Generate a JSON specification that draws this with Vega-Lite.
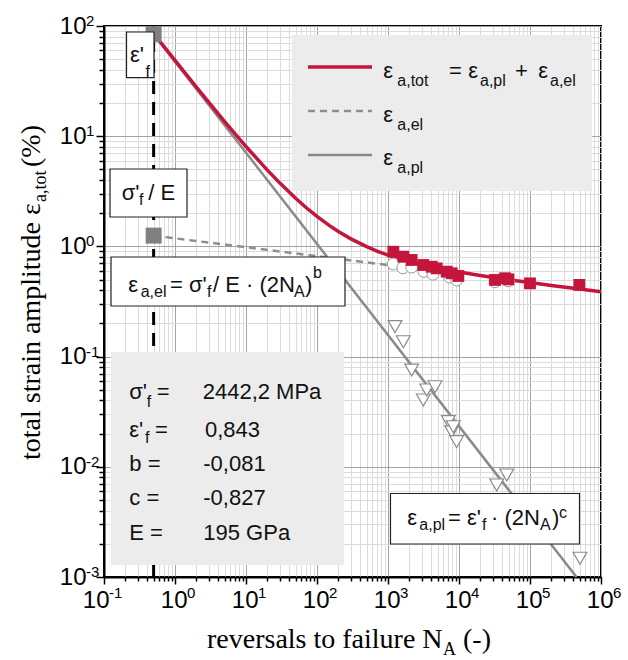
{
  "$schema": "https://vega.github.io/schema/vega-lite/v6.json",
  "width": 497,
  "height": 551,
  "autosize": {"type": "none"},
  "padding": {"left": 104, "top": 26, "right": 27, "bottom": 83},
  "background": "white",
  "config": {
    "view": {"stroke": "#000", "strokeWidth": 2},
    "text": {"font": "Liberation Sans", "color": "#111"}
  },
  "datasets": {
    "vline": [{"N": 0.5, "eps": 0.001}, {"N": 0.5, "eps": 100}],
    "el": [{"N": 0.5, "eps": 1.2524}, {"N": 1000, "eps": 0.6767}],
    "pl": [{"N": 0.5, "eps": 84.3}, {"N": 452000, "eps": 0.001}],
    "tot": [
      {"N": 0.5, "eps": 85.55}, {"N": 0.7, "eps": 65.04}, {"N": 1, "eps": 48.71}, {"N": 2, "eps": 27.91},
      {"N": 5, "eps": 13.59}, {"N": 10, "eps": 8.06}, {"N": 20, "eps": 4.919}, {"N": 30, "eps": 3.752},
      {"N": 50, "eps": 2.732}, {"N": 70, "eps": 2.255}, {"N": 100, "eps": 1.869}, {"N": 150, "eps": 1.543},
      {"N": 200, "eps": 1.365}, {"N": 300, "eps": 1.171}, {"N": 500, "eps": 0.994}, {"N": 700, "eps": 0.9076},
      {"N": 1000, "eps": 0.834}, {"N": 2000, "eps": 0.728}, {"N": 3000, "eps": 0.682}, {"N": 5000, "eps": 0.635},
      {"N": 10000, "eps": 0.585}, {"N": 20000, "eps": 0.544}, {"N": 50000, "eps": 0.499}, {"N": 100000, "eps": 0.4695},
      {"N": 200000, "eps": 0.4425}, {"N": 500000, "eps": 0.41}, {"N": 1000000, "eps": 0.3872}
    ],
    "anchors": [{"N": 0.5, "eps": 84.3}, {"N": 0.5, "eps": 1.2524}],
    "totPts": [
      {"N": 1189, "eps": 0.895}, {"N": 1643, "eps": 0.807}, {"N": 2153, "eps": 0.753}, {"N": 3141, "eps": 0.678},
      {"N": 4121, "eps": 0.654}, {"N": 4850, "eps": 0.632}, {"N": 6714, "eps": 0.59}, {"N": 7889, "eps": 0.57},
      {"N": 9793, "eps": 0.539}, {"N": 32150, "eps": 0.496}, {"N": 44500, "eps": 0.514}, {"N": 49600, "eps": 0.502},
      {"N": 100000, "eps": 0.462}, {"N": 495000, "eps": 0.447}
    ],
    "elPts": [
      {"N": 1189, "eps": 0.692}, {"N": 1620, "eps": 0.64}, {"N": 2153, "eps": 0.65}, {"N": 3200, "eps": 0.595},
      {"N": 4300, "eps": 0.56}, {"N": 7400, "eps": 0.527}, {"N": 9300, "eps": 0.497}, {"N": 32150, "eps": 0.478},
      {"N": 49600, "eps": 0.487}
    ],
    "plPts": [
      {"N": 1256, "eps": 0.187}, {"N": 1643, "eps": 0.1365}, {"N": 2153, "eps": 0.0755}, {"N": 3141, "eps": 0.0404},
      {"N": 3507, "eps": 0.0498}, {"N": 4592, "eps": 0.0533}, {"N": 7080, "eps": 0.0257}, {"N": 7889, "eps": 0.0208},
      {"N": 8320, "eps": 0.0231}, {"N": 9270, "eps": 0.0169}, {"N": 33960, "eps": 0.00684}, {"N": 46990, "eps": 0.00843},
      {"N": 506000, "eps": 0.00148}
    ],
    "grayBoxes": [
      {"N": 44.45, "N2": 746800, "eps": 82.85, "eps2": 3.183},
      {"N": 0.1255, "N2": 239.9, "eps": 0.1101, "eps2": 0.001285}
    ],
    "whiteBoxes": [
      {"N": 0.2075, "N2": 0.506, "eps": 88.2, "eps2": 33.96},
      {"N": 0.1215, "N2": 1.476, "eps": 5.04, "eps2": 1.848},
      {"N": 0.1255, "N2": 247.9, "eps": 0.8012, "eps2": 0.2878},
      {"N": 1084, "N2": 498000, "eps": 0.005723, "eps2": 0.001993}
    ],
    "legRed": [{"N": 74.6, "N2": 595.7, "eps": 42.5}],
    "legDash": [{"N": 74.6, "N2": 595.7, "eps": 16.93}],
    "legGray": [{"N": 74.6, "N2": 595.7, "eps": 6.752}],
    "tmain": [
      {"N": 858.8, "eps": 33.74, "t": "ε"}, {"N": 7231, "eps": 33.74, "t": "="}, {"N": 13520, "eps": 33.74, "t": "ε"},
      {"N": 61480, "eps": 33.74, "t": "+"}, {"N": 130900, "eps": 33.74, "t": "ε"},
      {"N": 858.8, "eps": 13.54, "t": "ε"}, {"N": 858.8, "eps": 5.479, "t": "ε"},
      {"N": 0.2324, "eps": 47.13, "t": "ε'"},
      {"N": 0.1775, "eps": 2.637, "t": "σ'"}, {"N": 0.4206, "eps": 2.637, "t": "/ E"},
      {"N": 0.2199, "eps": 0.388, "t": "ε"}, {"N": 0.8504, "eps": 0.388, "t": "= σ'"},
      {"N": 3.429, "eps": 0.388, "t": "/ E · (2N"}, {"N": 67.77, "eps": 0.388, "t": ")"},
      {"N": 1870, "eps": 0.002963, "t": "ε"}, {"N": 7000, "eps": 0.002963, "t": "= ε'"},
      {"N": 28230, "eps": 0.002963, "t": "· (2N"}, {"N": 204100, "eps": 0.002963, "t": ")"},
      {"N": 0.2271, "eps": 0.04099, "t": "σ'"}, {"N": 0.5524, "eps": 0.04099, "t": "="}, {"N": 2.455, "eps": 0.04099, "t": "2442,2 MPa"},
      {"N": 0.2271, "eps": 0.01875, "t": "ε'"}, {"N": 0.5228, "eps": 0.01875, "t": "="}, {"N": 2.646, "eps": 0.01875, "t": "0,843"},
      {"N": 0.2271, "eps": 0.009218, "t": "b ="}, {"N": 2.503, "eps": 0.009218, "t": "-0,081"},
      {"N": 0.2271, "eps": 0.004501, "t": "c ="}, {"N": 2.503, "eps": 0.004501, "t": "-0,827"},
      {"N": 0.2271, "eps": 0.002167, "t": "E ="}, {"N": 2.503, "eps": 0.002167, "t": "195 GPa"}
    ],
    "tsub": [
      {"N": 1352, "eps": 28.55, "t": "a,tot"}, {"N": 19760, "eps": 28.55, "t": "a,pl"}, {"N": 191300, "eps": 28.55, "t": "a,el"},
      {"N": 1352, "eps": 11.38, "t": "a,el"}, {"N": 1352, "eps": 4.636, "t": "a,pl"},
      {"N": 0.3842, "eps": 34.81, "t": "f"},
      {"N": 0.3112, "eps": 2.375, "t": "f"},
      {"N": 0.3288, "eps": 0.351, "t": "a,el"}, {"N": 2.823, "eps": 0.351, "t": "f"}, {"N": 47.46, "eps": 0.351, "t": "A"}, {"N": 87.83, "eps": 0.5125, "t": "b"},
      {"N": 2759, "eps": 0.00267, "t": "a,pl"}, {"N": 21080, "eps": 0.00267, "t": "f"}, {"N": 138300, "eps": 0.00267, "t": "A"}, {"N": 256200, "eps": 0.003409, "t": "c"},
      {"N": 0.3995, "eps": 0.0351, "t": "f"}, {"N": 0.3781, "eps": 0.01634, "t": "f"}
    ],
    "ttl": [{"N": 2.823, "eps": 0.0002268, "t": "reversals to failure N"}, {"N": 11390, "eps": 0.0002268, "t": "(-)"}],
    "ttls": [{"N": 5953, "eps": 0.000196, "t": "A"}],
    "tty": [{"N": 0.01255, "eps": 0.01152, "t": "total strain amplitude ε"}, {"N": 0.01255, "eps": 5.253, "t": "(%)"}],
    "ttys": [{"N": 0.01524, "eps": 2.528, "t": "a,tot"}],
    "xexpPos": [
      {"N": 1, "eps": 0.001, "t": "0"}, {"N": 10, "eps": 0.001, "t": "1"}, {"N": 100, "eps": 0.001, "t": "2"},
      {"N": 1000, "eps": 0.001, "t": "3"}, {"N": 10000, "eps": 0.001, "t": "4"}, {"N": 100000, "eps": 0.001, "t": "5"},
      {"N": 1000000, "eps": 0.001, "t": "6"}
    ],
    "xexpNeg": [{"N": 0.1, "eps": 0.001, "t": "-1"}],
    "yexp": [
      {"N": 0.1, "eps": 0.001, "t": "-3"}, {"N": 0.1, "eps": 0.01, "t": "-2"}, {"N": 0.1, "eps": 0.1, "t": "-1"},
      {"N": 0.1, "eps": 1, "t": "0"}, {"N": 0.1, "eps": 10, "t": "1"}, {"N": 0.1, "eps": 100, "t": "2"}
    ]
  },
  "encoding": {
    "x": {
      "field": "N", "type": "quantitative",
      "scale": {"type": "log", "domain": [0.1, 1000000], "nice": false},
      "axis": {
        "title": null,
        "values": [0.1,0.2,0.3,0.4,0.5,0.6,0.7,0.8,0.9,1,2,3,4,5,6,7,8,9,10,20,30,40,50,60,70,80,90,100,200,300,400,500,600,700,800,900,1000,2000,3000,4000,5000,6000,7000,8000,9000,10000,20000,30000,40000,50000,60000,70000,80000,90000,100000,200000,300000,400000,500000,600000,700000,800000,900000,1000000],
        "grid": true,
        "gridColor": {"condition": {"test": "abs(log(datum.value)/LN10 - round(log(datum.value)/LN10)) < 0.000001", "value": "#a3a3a3"}, "value": "#dcdcdc"},
        "gridWidth": 1,
        "tickSize": {"condition": {"test": "abs(log(datum.value)/LN10 - round(log(datum.value)/LN10)) < 0.000001", "value": 7}, "value": 4},
        "tickColor": "#000", "tickWidth": 1.5,
        "domainColor": "#000", "domainWidth": 2,
        "labelExpr": "abs(log(datum.value)/LN10 - round(log(datum.value)/LN10)) < 0.000001 ? '10' : ''",
        "labelFont": "Liberation Sans", "labelFontSize": 24, "labelColor": "#000",
        "labelAlign": "right",
        "labelOffset": {"condition": {"test": "datum.value < 0.5", "value": 5}, "value": 12},
        "labelPadding": 4,
        "labelOverlap": false, "labelFlush": false, "labelBound": false
      }
    },
    "y": {
      "field": "eps", "type": "quantitative",
      "scale": {"type": "log", "domain": [0.001, 100], "nice": false},
      "axis": {
        "title": null,
        "values": [0.001,0.002,0.003,0.004,0.005,0.006,0.007,0.008,0.009,0.01,0.02,0.03,0.04,0.05,0.06,0.07,0.08,0.09,0.1,0.2,0.3,0.4,0.5,0.6,0.7,0.8,0.9,1,2,3,4,5,6,7,8,9,10,20,30,40,50,60,70,80,90,100],
        "grid": true,
        "gridColor": {"condition": {"test": "abs(log(datum.value)/LN10 - round(log(datum.value)/LN10)) < 0.000001", "value": "#a3a3a3"}, "value": "#dcdcdc"},
        "gridWidth": 1,
        "tickSize": {"condition": {"test": "abs(log(datum.value)/LN10 - round(log(datum.value)/LN10)) < 0.000001", "value": 8}, "value": 5},
        "tickColor": "#000", "tickWidth": 1.5,
        "domainColor": "#000", "domainWidth": 2,
        "labelExpr": "abs(log(datum.value)/LN10 - round(log(datum.value)/LN10)) < 0.000001 ? '10' : ''",
        "labelFont": "Liberation Sans", "labelFontSize": 24, "labelColor": "#000",
        "labelAlign": "right", "labelBaseline": "middle",
        "labelPadding": 10,
        "labelOverlap": false, "labelFlush": false, "labelBound": false
      }
    }
  },
  "layer": [
    {"data": {"name": "vline"}, "mark": {"type": "line", "color": "#000", "strokeWidth": 3, "strokeDash": [13, 8]}},
    {"data": {"name": "el"}, "mark": {"type": "line", "color": "#8e8e8e", "strokeWidth": 2.5, "strokeDash": [7, 5]}},
    {"data": {"name": "pl"}, "mark": {"type": "line", "color": "#8a8a8a", "strokeWidth": 2.5}},
    {"data": {"name": "tot"}, "mark": {"type": "line", "color": "#c4163c", "strokeWidth": 3.5}},
    {"data": {"name": "anchors"}, "mark": {"type": "point", "shape": "square", "filled": true, "size": 256, "color": "#808080", "opacity": 1}},
    {"data": {"name": "elPts"}, "mark": {"type": "point", "shape": "circle", "filled": true, "fill": "#fff", "stroke": "#9a9a9a", "strokeWidth": 1, "size": 144, "opacity": 1}},
    {"data": {"name": "plPts"}, "mark": {"type": "point", "shape": "triangle-down", "filled": true, "fill": "#fff", "stroke": "#8a8a8a", "strokeWidth": 1.2, "size": 190, "opacity": 1}},
    {"data": {"name": "totPts"}, "mark": {"type": "point", "shape": "square", "filled": true, "color": "#c4163c", "size": 140, "opacity": 1}},
    {"data": {"name": "grayBoxes"}, "mark": {"type": "rect", "fill": "#ececec"}, "encoding": {"x2": {"field": "N2"}, "y2": {"field": "eps2"}}},
    {"data": {"name": "whiteBoxes"}, "mark": {"type": "rect", "fill": "#fff", "stroke": "#222", "strokeWidth": 1.2}, "encoding": {"x2": {"field": "N2"}, "y2": {"field": "eps2"}}},
    {"data": {"name": "legRed"}, "mark": {"type": "rule", "color": "#c4163c", "strokeWidth": 3.5}, "encoding": {"x2": {"field": "N2"}}},
    {"data": {"name": "legDash"}, "mark": {"type": "rule", "color": "#8e8e8e", "strokeWidth": 2.5, "strokeDash": [7, 5]}, "encoding": {"x2": {"field": "N2"}}},
    {"data": {"name": "legGray"}, "mark": {"type": "rule", "color": "#8a8a8a", "strokeWidth": 2.5}, "encoding": {"x2": {"field": "N2"}}},
    {"data": {"name": "tmain"}, "mark": {"type": "text", "align": "left", "baseline": "alphabetic", "fontSize": 22, "font": "Liberation Sans", "color": "#111"}, "encoding": {"text": {"field": "t"}}},
    {"data": {"name": "tsub"}, "mark": {"type": "text", "align": "left", "baseline": "alphabetic", "fontSize": 16, "font": "Liberation Sans", "color": "#111"}, "encoding": {"text": {"field": "t"}}},
    {"data": {"name": "ttl"}, "mark": {"type": "text", "align": "left", "baseline": "alphabetic", "fontSize": 28, "font": "Liberation Serif", "color": "#000"}, "encoding": {"text": {"field": "t"}}},
    {"data": {"name": "ttls"}, "mark": {"type": "text", "align": "left", "baseline": "alphabetic", "fontSize": 18, "font": "Liberation Serif", "color": "#000"}, "encoding": {"text": {"field": "t"}}},
    {"data": {"name": "tty"}, "mark": {"type": "text", "align": "left", "baseline": "alphabetic", "angle": 270, "fontSize": 28, "font": "Liberation Serif", "color": "#000"}, "encoding": {"text": {"field": "t"}}},
    {"data": {"name": "ttys"}, "mark": {"type": "text", "align": "left", "baseline": "alphabetic", "angle": 270, "fontSize": 18, "font": "Liberation Serif", "color": "#000"}, "encoding": {"text": {"field": "t"}}},
    {"data": {"name": "xexpPos"}, "mark": {"type": "text", "align": "left", "baseline": "alphabetic", "dx": 12, "dy": 21, "fontSize": 15, "font": "Liberation Sans", "color": "#000"}, "encoding": {"text": {"field": "t"}}},
    {"data": {"name": "xexpNeg"}, "mark": {"type": "text", "align": "left", "baseline": "alphabetic", "dx": 5, "dy": 21, "fontSize": 15, "font": "Liberation Sans", "color": "#000"}, "encoding": {"text": {"field": "t"}}},
    {"data": {"name": "yexp"}, "mark": {"type": "text", "align": "left", "baseline": "alphabetic", "dx": -18, "dy": 0, "fontSize": 15, "font": "Liberation Sans", "color": "#000"}, "encoding": {"text": {"field": "t"}}}
  ]
}
